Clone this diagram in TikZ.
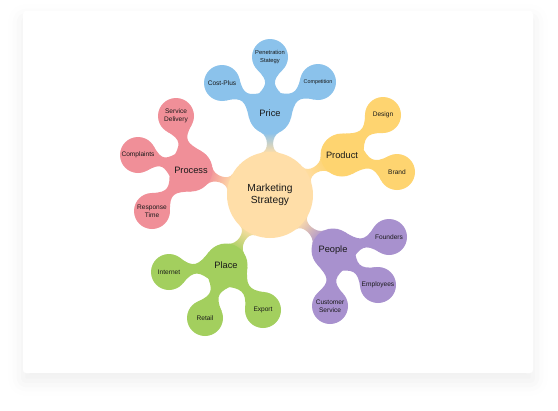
\documentclass[tikz,border=0pt]{standalone}
\usepackage{fontspec}
\setmainfont{Liberation Sans}
\usetikzlibrary{calc,shadows.blur}
\pgfdeclarelayer{bg}
\pgfdeclarelayer{back}
\pgfsetlayers{bg,back,main}
\definecolor{cblue}{RGB}{139,194,235}
\definecolor{cyellow}{RGB}{254,212,112}
\definecolor{cpink}{RGB}{240,143,152}
\definecolor{cgreen}{RGB}{163,207,94}
\definecolor{cpurple}{RGB}{168,145,206}
\definecolor{cpeach}{RGB}{255,222,168}
\definecolor{txt}{RGB}{25,25,25}
% #1 options, #2 A, #3 B, #4 rA, #5 rB, #6 alpha, #7 beta, #8 L
\newcommand\neck[8]{%
  \path[#1] let \p1=(#2), \p2=(#3), \n1={atan2(\y2-\y1,\x2-\x1)} in
    ($(\p1)+(\n1+#6:#4)$)
    .. controls ($(\p1)+(\n1+#6:#4)+(\n1+#6-90:#8)$) and ($(\p2)+(\n1+180-#7:#5)+(\n1-90-#7:#8)$) ..
    ($(\p2)+(\n1+180-#7:#5)$)
    -- ($(\p2)+(\n1+180+#7:#5)$)
    .. controls ($(\p2)+(\n1+180+#7:#5)+(\n1+90+#7:#8)$) and ($(\p1)+(\n1-#6:#4)+(\n1-#6+90:#8)$) ..
    ($(\p1)+(\n1-#6:#4)$) -- cycle;}
\tikzset{
  hub/.style={circle, fill=cpeach, minimum size=86bp, inner sep=0pt, align=center, text=txt,
    font=\fontsize{10.3}{11.8}\selectfont},
  branch/.style={circle, minimum size=43bp, inner sep=0pt, text=txt, font=\fontsize{9.3}{10}\selectfont},
  leaf/.style={circle, minimum size=36bp, inner sep=0pt, align=center, text=txt,
    font=\fontsize{6.6}{8}\selectfont},
  small/.style={font=\fontsize{5.8}{7.2}\selectfont},
}
\begin{document}
\begin{tikzpicture}[x=1bp,y=1bp]
\useasboundingbox (0,0) rectangle (558,410);
\begin{pgfonlayer}{bg}
  \fill[white, rounded corners=3bp,
    blur shadow={shadow xshift=0bp, shadow yshift=-8bp, shadow blur radius=15bp, shadow opacity=7}]
    (23,37) rectangle (533,399);
\end{pgfonlayer}

% nodes
\node[hub] (nC) at (270,215) {Marketing\\Strategy};

\node[branch, fill=cblue] (nPrice) at (270,297) {Price};
\node[leaf, fill=cblue, small] (nPen) at (270,353) {Penetration\\Stategy};
\node[leaf, fill=cblue, font=\fontsize{5.4}{7}\selectfont] (nComp) at (318,328) {Competition};
\node[leaf, fill=cblue] (nCost) at (222,327) {Cost-Plus};

\node[branch, fill=cyellow] (nProd) at (342,255) {Product};
\node[leaf, fill=cyellow] (nDes) at (383,295) {Design};
\node[leaf, fill=cyellow] (nBrand) at (397,238) {Brand};

\node[branch, fill=cpink] (nProc) at (191,240) {Process};
\node[leaf, fill=cpink] (nServ) at (176,294) {Service\\Delivery};
\node[leaf, fill=cpink] (nCompl) at (138,255) {Complaints};
\node[leaf, fill=cpink] (nResp) at (152,199) {Response\\Time};

\node[branch, fill=cgreen] (nPlace) at (226,145) {Place};
\node[leaf, fill=cgreen] (nInt) at (169,138) {Internet};
\node[leaf, fill=cgreen] (nRet) at (205,92) {Retail};
\node[leaf, fill=cgreen] (nExp) at (263,100) {Export};

\node[branch, fill=cpurple] (nPeop) at (333,160) {People};
\node[leaf, fill=cpurple] (nFound) at (389,173) {Founders};
\node[leaf, fill=cpurple] (nEmp) at (378,125) {Employees};
\node[leaf, fill=cpurple] (nCust) at (330,104) {Customer\\Service};

\begin{pgfonlayer}{back}
  % main necks
  \neck{top color=cblue, bottom color=cpeach, shading angle=0}{nC.center}{nPrice.center}{43bp}{21.5bp}{12}{25}{8.4bp}
  \neck{top color=cyellow, bottom color=cpeach, shading angle=-60.9}{nC.center}{nProd.center}{43bp}{21.5bp}{12}{25}{8.4bp}
  \neck{top color=cpink, bottom color=cpeach, shading angle=72.4}{nC.center}{nProc.center}{43bp}{21.5bp}{12}{25}{8.4bp}
  \neck{top color=cgreen, bottom color=cpeach, shading angle=147.8}{nC.center}{nPlace.center}{43bp}{21.5bp}{12}{25}{8.4bp}
  \neck{top color=cpurple, bottom color=cpeach, shading angle=-131.1}{nC.center}{nPeop.center}{43bp}{21.5bp}{12}{25}{8.4bp}
  % sub necks
  \neck{fill=cblue}{nPrice.center}{nPen.center}{21.5bp}{18bp}{45}{45}{17bp}
  \neck{fill=cblue}{nPrice.center}{nCost.center}{21.5bp}{18bp}{45}{45}{17bp}
  \neck{fill=cblue}{nPrice.center}{nComp.center}{21.5bp}{18bp}{45}{45}{17bp}
  \neck{fill=cyellow}{nProd.center}{nDes.center}{21.5bp}{18bp}{45}{45}{17bp}
  \neck{fill=cyellow}{nProd.center}{nBrand.center}{21.5bp}{18bp}{45}{45}{17bp}
  \neck{fill=cpink}{nProc.center}{nServ.center}{21.5bp}{18bp}{45}{45}{17bp}
  \neck{fill=cpink}{nProc.center}{nCompl.center}{21.5bp}{18bp}{45}{45}{17bp}
  \neck{fill=cpink}{nProc.center}{nResp.center}{21.5bp}{18bp}{45}{45}{17bp}
  \neck{fill=cgreen}{nPlace.center}{nInt.center}{21.5bp}{18bp}{45}{45}{17bp}
  \neck{fill=cgreen}{nPlace.center}{nRet.center}{21.5bp}{18bp}{45}{45}{17bp}
  \neck{fill=cgreen}{nPlace.center}{nExp.center}{21.5bp}{18bp}{45}{45}{17bp}
  \neck{fill=cpurple}{nPeop.center}{nFound.center}{21.5bp}{18bp}{45}{45}{17bp}
  \neck{fill=cpurple}{nPeop.center}{nEmp.center}{21.5bp}{18bp}{45}{45}{17bp}
  \neck{fill=cpurple}{nPeop.center}{nCust.center}{21.5bp}{18bp}{45}{45}{17bp}
\end{pgfonlayer}
\end{tikzpicture}
\end{document}
